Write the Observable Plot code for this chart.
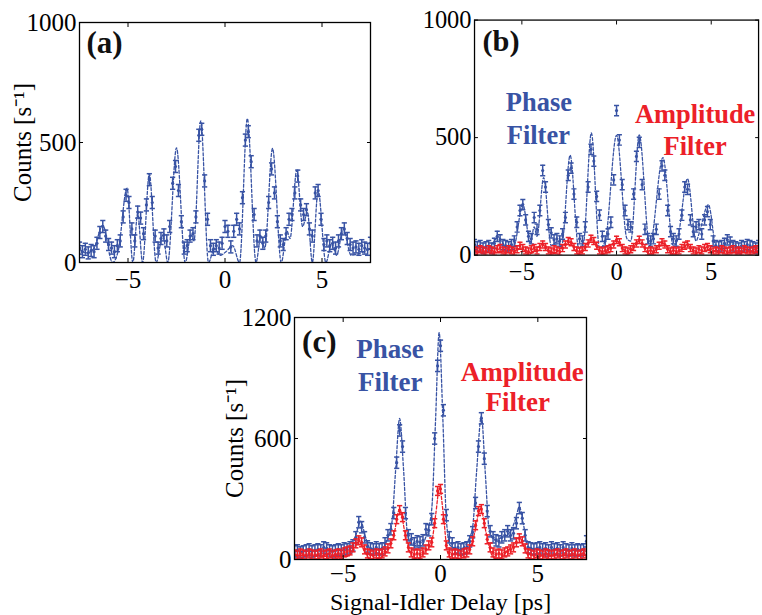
<!DOCTYPE html>
<html><head><meta charset="utf-8">
<script src="https://cdn.jsdelivr.net/npm/d3@7"></script>
<script src="https://cdn.jsdelivr.net/npm/@observablehq/plot@0.6"></script>
<style>
html,body{margin:0;padding:0;background:#fff;overflow:hidden;}
#wrap{position:relative;width:762px;height:615px;overflow:hidden;background:#fff;}
.panel{position:absolute;}
</style></head><body><div id="wrap"></div>
<script>
// ---- shared delay grid (ps) ----
const delay = [
 -7.5,-7.35,-7.2,-7.05,-6.9,-6.75,-6.6,-6.45,-6.3,-6.15,
 -6.0,-5.85,-5.7,-5.55,-5.4,-5.25,-5.1,-4.95,-4.8,-4.65,
 -4.5,-4.35,-4.2,-4.05,-3.9,-3.75,-3.6,-3.45,-3.3,-3.15,
 -3.0,-2.85,-2.7,-2.55,-2.4,-2.25,-2.1,-1.95,-1.8,-1.65,
 -1.5,-1.35,-1.2,-1.05,-0.9,-0.75,-0.6,-0.45,-0.3,-0.15,
 0,0.15,0.3,0.45,0.6,0.75,0.9,1.05,1.2,1.35,
 1.5,1.65,1.8,1.95,2.1,2.25,2.4,2.55,2.7,2.85,
 3.0,3.15,3.3,3.45,3.6,3.75,3.9,4.05,4.2,4.35,
 4.5,4.65,4.8,4.95,5.1,5.25,5.4,5.55,5.7,5.85,
 6.0,6.15,6.3,6.45,6.6,6.75,6.9,7.05,7.2,7.35,
 7.5];

// ---- panel (a) ----
const countsA = [
 60,45,55,40,50,45,80,125,150,110,
 75,60,45,70,90,190,280,250,140,90,
 210,185,120,240,345,250,110,60,100,115,
 90,150,330,400,300,170,60,70,110,120,
 190,530,555,340,180,70,55,70,60,80,
 150,130,65,130,180,140,270,510,545,420,
 200,90,110,80,110,250,390,290,170,90,
 75,120,180,200,290,360,240,200,220,140,
 110,290,300,180,75,90,70,80,60,90,
 120,140,100,75,60,65,55,70,60,55,
 80];
const fitA_delay = [-7.5,-7.1,-6.75,-6.3,-5.8,-5.5,-5.05,-4.75,-4.5,-4.25,-3.9,-3.55,-3.2,-2.95,-2.5,-2.05,-1.75,-1.6,-1.25,-0.85,-0.55,-0.25,0.05,0.4,0.75,1.15,1.6,1.85,2.05,2.45,2.9,3.2,3.35,3.7,4.0,4.25,4.5,4.8,5.2,5.5,5.75,6.1,6.5,7.0,7.5];
const fitA_counts = [55,40,60,155,0,50,310,0,205,0,370,0,115,0,478,0,115,90,590,0,60,30,45,70,0,600,0,110,60,475,0,130,100,385,150,210,0,300,0,80,30,140,30,40,60];
const errA = 25;

// ---- panel (b) ----
const countsB_phase = [
 45,35,40,30,35,40,30,50,80,65,
 45,40,35,45,60,120,190,215,150,80,
 70,160,110,190,360,290,130,95,65,70,
 60,90,160,340,370,260,140,70,60,120,
 290,450,400,250,170,80,60,90,140,320,
 615,490,300,190,130,120,260,420,480,300,
 110,70,60,70,110,260,380,340,190,100,
 70,60,90,170,290,280,150,100,120,130,
 90,150,185,130,60,40,35,40,50,65,
 55,40,35,30,40,35,45,40,35,30,
 40];
const countsB_amp = [
 20,15,25,20,15,25,20,15,25,30,
 20,15,25,20,15,25,40,30,20,15,
 25,30,20,35,45,35,20,15,25,20,
 15,30,45,60,55,35,20,15,20,35,
 50,70,60,40,20,15,20,25,30,45,
 65,55,30,20,15,25,35,50,65,50,
 30,15,20,15,25,40,55,45,25,15,
 20,15,20,30,40,45,30,20,15,25,
 20,30,35,25,15,20,15,25,20,15,
 20,25,15,20,15,25,20,15,20,25,
 15];
const fitB_phase_delay = [-7.5,-6.8,-6.25,-5.7,-5.4,-4.95,-4.55,-4.35,-4.2,-3.85,-3.45,-3.1,-2.9,-2.45,-2.0,-1.75,-1.33,-0.9,-0.6,0.0,0.55,0.75,1.2,1.75,2.45,3.0,3.2,3.75,4.2,4.35,4.85,5.3,6.0,6.5,7.5];
const fitB_phase_counts = [40,30,75,20,40,215,50,120,80,330,40,60,40,425,30,50,520,30,60,510,70,60,512,40,415,40,60,325,60,90,215,20,60,30,40];
const fitB_amp_delay = [-7.5,-5.6,-5.05,-4.6,-3.9,-3.4,-2.5,-2.0,-1.3,-0.75,0,0.6,1.2,1.75,2.45,3.0,3.75,4.3,4.85,5.5,7.5];
const fitB_amp_counts = [15,10,30,5,45,5,55,5,65,5,60,5,60,5,50,5,40,5,25,10,15];
const errB_phase = 22, errB_amp = 15;

// ---- panel (c) ----
const countsC_phase = [
 40,45,35,40,45,50,40,45,50,45,
 60,55,45,40,45,50,45,55,50,60,
 70,110,185,160,110,65,55,50,60,50,
 55,80,120,150,230,480,640,560,230,120,
 100,80,90,85,95,150,145,200,600,960,
 1060,740,220,110,80,55,60,50,55,60,
 90,135,280,560,700,500,240,140,110,95,
 90,110,120,140,120,130,180,255,205,120,
 60,55,50,55,60,50,55,45,60,50,
 55,45,60,50,45,55,45,50,45,50,
 90];
const countsC_amp = [
 25,20,30,25,20,30,25,20,25,30,
 20,25,30,20,25,30,25,35,40,45,
 60,80,95,85,50,30,25,20,30,25,
 30,40,55,80,120,200,245,210,120,60,
 35,25,30,25,35,50,70,85,180,340,
 350,200,70,35,25,30,25,20,30,35,
 50,90,170,240,250,180,100,60,35,25,
 30,25,35,40,50,60,85,105,90,55,
 30,25,20,30,25,20,30,25,20,25,
 30,20,25,30,20,25,30,20,25,30,
 20];
const fitC_phase_delay = [-7.5,-5.0,-4.6,-4.35,-4.1,-3.85,-3.6,-3.0,-2.7,-2.5,-2.3,-2.1,-1.9,-1.7,-1.45,-1.0,-0.7,-0.45,-0.25,-0.07,0.12,0.3,0.5,1.0,1.4,1.65,1.85,2.1,2.3,2.5,2.8,3.2,3.6,3.85,4.05,4.25,4.5,5.0,7.5];
const fitC_phase_counts = [40,45,55,120,190,110,50,55,110,180,450,700,450,130,70,70,130,250,700,1125,700,200,70,50,90,160,430,710,430,150,100,110,140,200,260,180,60,50,45];
const fitC_amp_delay = [-7.5,-4.8,-4.5,-4.2,-3.9,-3.6,-3.1,-2.7,-2.4,-2.1,-1.8,-1.5,-1.2,-0.8,-0.45,-0.25,-0.05,0.15,0.35,0.6,1.1,1.5,1.75,2.05,2.35,2.65,2.95,3.4,3.75,4.05,4.35,4.65,5.0,7.5];
const fitC_amp_counts = [20,15,40,90,40,0,10,50,120,250,120,20,0,40,90,220,355,220,40,0,10,50,130,255,130,20,0,40,70,110,50,0,15,20];
const errC_phase = 28, errC_amp = 22;

// ---- ticks & labels ----
const xTicks = [-5, 0, 5];
const yTicksAB = [0, 500, 1000];
const yTicksC = [0, 600, 1200];
const yLabel = "Counts [s\u207B\u00B9]";
const xLabel = "Signal-Idler Delay [ps]";
const blue = "#3853a4", red = "#ec2028";
const annotA = [{text: "(a)", delay: -7.14, counts: 915}];
const annotB_tag = [{text: "(b)", delay: -7.08, counts: 910}];
const annotB = [
  {text: "Phase", delay: -4.1, counts: 648, color: blue},
  {text: "Filter", delay: -4.13, counts: 507, color: blue},
  {text: "Amplitude", delay: 4.15, counts: 598, color: red},
  {text: "Filter", delay: 4.15, counts: 461, color: red}];
const annotC_tag = [{text: "(c)", delay: -7.11, counts: 1078}];
const annotC = [
  {text: "Phase", delay: -2.6, counts: 1044, color: blue},
  {text: "Filter", delay: -2.58, counts: 880, color: blue},
  {text: "Amplitude", delay: 4.2, counts: 930, color: red},
  {text: "Filter", delay: 3.97, counts: 781, color: red}];

// ---- helpers ----
const capSymbol = {draw(ctx, size) { const w = Math.sqrt(size / Math.PI); ctx.moveTo(-w, 0); ctx.lineTo(w, 0); }};

function seriesMarks(xs, ys, fx, fy, err, color) {
  const pts = xs.map((x, i) => ({x, y: ys[i]}));
  const fit = fx.map((x, i) => ({x, y: fy[i]}));
  return [
    Plot.line(fit, {x: "x", y: "y", stroke: color, strokeWidth: 1.3, strokeDasharray: "3,2", curve: "monotone-x", clip: true}),
    Plot.ruleX(pts, {x: "x", y1: d => d.y - err, y2: d => d.y + err, stroke: color, strokeWidth: 1.5, clip: true}),
    Plot.dot(pts, {x: "x", y: d => d.y - err, symbol: capSymbol, r: 2.6, stroke: color, fill: "none", strokeWidth: 1.5, clip: true}),
    Plot.dot(pts, {x: "x", y: d => d.y + err, symbol: capSymbol, r: 2.6, stroke: color, fill: "none", strokeWidth: 1.5, clip: true}),
    Plot.dot(pts, {x: "x", y: "y", r: 1.6, fill: color, stroke: "none", clip: true})
  ];
}

function axes(yTicks, xPad) {
  return [
    Plot.axisX({anchor: "bottom", ticks: xTicks, tickFormat: "d", tickSize: 0, tickPadding: xPad, label: null, fontSize: 25}),
    Plot.axisX({anchor: "bottom", ticks: xTicks, tickSize: -4, fill: "none", label: null}),
    Plot.axisX({anchor: "top", ticks: xTicks, tickSize: -4, fill: "none", label: null}),
    Plot.axisY({anchor: "left", ticks: yTicks, tickFormat: "d", tickSize: 0, tickPadding: 3, label: null, fontSize: 25}),
    Plot.axisY({anchor: "left", ticks: yTicks, tickSize: -4, fill: "none", label: null}),
    Plot.axisY({anchor: "right", ticks: yTicks, tickSize: -4, fill: "none", label: null}),
    Plot.frame({stroke: "black", strokeWidth: 1.3})
  ];
}

const tagMark = (data) => Plot.text(data, {x: "delay", y: "counts", text: "text", textAnchor: "start", fontSize: 31, fontWeight: "bold", fill: "#111"});
const annotMark = (data) => Plot.text(data, {x: "delay", y: "counts", text: "text", textAnchor: "middle", fontSize: 27, fontWeight: "bold", fill: "color"});
const yLabelMark = (dx) => Plot.text([yLabel], {text: d => d, frameAnchor: "left", textAnchor: "middle", lineAnchor: "middle", rotate: -90, dx, fontSize: 25});

const style = {fontFamily: "'Liberation Serif', 'Times New Roman', serif", fontSize: "25px", background: "transparent", overflow: "visible", color: "black"};

function place(svg, left, top) {
  const div = document.createElement("div");
  div.className = "panel";
  div.style.left = left + "px";
  div.style.top = top + "px";
  div.appendChild(svg);
  document.getElementById("wrap").appendChild(div);
}

// Panel (a)
place(Plot.plot({
  width: 380, height: 300,
  marginLeft: 79, marginRight: 10, marginTop: 22, marginBottom: 38,
  x: {domain: [-7.5, 7.5]}, y: {domain: [0, 1000]},
  style,
  marks: [
    ...seriesMarks(delay, countsA, fitA_delay, fitA_counts, errA, blue),
    ...axes(yTicksAB, 8),
    tagMark(annotA),
    yLabelMark(-56.5)
  ]
}), 0, 0);

// Panel (b)
place(Plot.plot({
  width: 390, height: 300,
  marginLeft: 96, marginRight: 4, marginTop: 20, marginBottom: 40,
  x: {domain: [-7.5, 7.5]}, y: {domain: [0, 1000]},
  style,
  marks: [
    ...seriesMarks(delay, countsB_phase, fitB_phase_delay, fitB_phase_counts, errB_phase, blue),
    ...seriesMarks(delay, countsB_amp, fitB_amp_delay, fitB_amp_counts, errB_amp, red),
    ...axes(yTicksAB, 8),
    tagMark(annotB_tag),
    annotMark(annotB)
  ]
}), 380, 0);

// Panel (c)
place(Plot.plot({
  width: 380, height: 315,
  marginLeft: 74, marginRight: 14, marginTop: 17, marginBottom: 56,
  x: {domain: [-7.5, 7.5]}, y: {domain: [0, 1200]},
  style,
  marks: [
    ...seriesMarks(delay, countsC_phase, fitC_phase_delay, fitC_phase_counts, errC_phase, blue),
    ...seriesMarks(delay, countsC_amp, fitC_amp_delay, fitC_amp_counts, errC_amp, red),
    ...axes(yTicksC, 5),
    tagMark(annotC_tag),
    annotMark(annotC),
    yLabelMark(-60),
    Plot.text([xLabel], {text: d => d, frameAnchor: "bottom", lineAnchor: "top", dy: 33, fontSize: 24})
  ]
}), 220, 300);
</script></body></html>
